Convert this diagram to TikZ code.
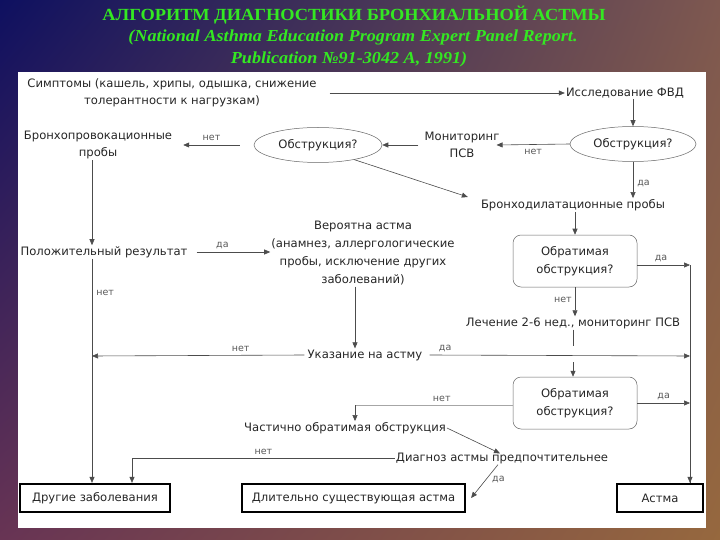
\documentclass[tikz,border=0pt]{standalone}
\usepackage{fontspec}
\setmainfont{DejaVu Sans}
\newfontfamily\titlefont{Liberation Serif}
\usetikzlibrary{shapes.geometric,arrows.meta,calc,shadings}
\definecolor{bgTL}{RGB}{14,16,96}
\definecolor{bgTR}{RGB}{126,88,80}
\definecolor{bgBL}{RGB}{104,52,84}
\definecolor{bgBR}{RGB}{150,104,62}
\definecolor{ttl}{RGB}{52,232,34}
\tikzset{
  lbl/.style={font=\fontsize{11.6}{17.5}\selectfont, align=center, inner sep=1pt, text=black!85},
  sm/.style={font=\fontsize{9.5}{10}\selectfont, text=black!65, inner sep=1pt},
  arr/.style={draw=black!70, line width=0.6pt, -{Triangle[length=6pt,width=5pt]}},
  ln/.style={draw=black!70, line width=0.6pt},
  ell/.style={ellipse, draw=black!60, line width=0.5pt, minimum width=126pt, minimum height=35pt, lbl},
  rbox/.style={rounded corners=8pt, draw=black!60, line width=0.5pt, minimum width=124pt, minimum height=52pt, lbl},
  endb/.style={draw=black, line width=2.2pt, minimum height=28pt, lbl},
  ttlstyle/.style={text=ttl, inner sep=0pt},
}
\begin{document}
\begin{tikzpicture}[x=1pt,y=-1pt]
\useasboundingbox (0,0) rectangle (720,540);
\shade[upper left=bgTL, upper right=bgTR, lower left=bgBL, lower right=bgBR] (0,0) rectangle (720,540);
\fill[white] (18,72) rectangle (706,528);

% title
\node[ttlstyle, xscale=1.08, font=\titlefont\bfseries\fontsize{17}{19}\selectfont] (t1) at (354,15) {АЛГОРИТМ ДИАГНОСТИКИ БРОНХИАЛЬНОЙ АСТМЫ};
\node[ttlstyle, xscale=1.08, font=\titlefont\bfseries\itshape\fontsize{16.8}{19}\selectfont] (t2) at (353,37) {(National Asthma Education Program Expert Panel Report.};
\node[ttlstyle, xscale=1.08, font=\titlefont\bfseries\itshape\fontsize{16.8}{19}\selectfont] (t3) at (349,59) {Publication №91-3042 A, 1991)};

% nodes
\node[lbl] (sym) at (172,93) {Симптомы (кашель, хрипы, одышка, снижение\\толерантности к нагрузкам)};
\node[lbl] (fvd) at (625,93) {Исследование ФВД};
\node[ell] (obs1) at (633,144) {Обструкция?};
\node[lbl] (mon) at (462,145) {Мониторинг\\ПСВ};
\node[ell, minimum width=128pt] (obs2) at (318,145) {Обструкция?};
\node[lbl] (bpp) at (98,145) {Бронхопровокационные\\пробы};
\node[lbl] (bdp) at (573,205) {Бронходилатационные пробы};
\node[rbox] (rev1) at (575,261) {Обратимая\\обструкция?};
\node[lbl] (lech) at (573,323) {Лечение 2-6 нед., мониторинг ПСВ};
\node[rbox] (rev2) at (575,403) {Обратимая\\обструкция?};
\node[lbl] (pos) at (104,252) {Положительный результат};
\node[lbl, font=\fontsize{11.6}{18.3}\selectfont] (ver) at (363,253) {Вероятна астма\\(анамнез, аллергологические\\пробы, исключение других\\заболеваний)};
\node[lbl] (uk) at (365,355) {Указание на астму};
\node[lbl] (chast) at (345,428) {Частично обратимая обструкция};
\node[lbl] (diag) at (502,458) {Диагноз астмы предпочтительнее};
\node[endb, minimum width=150pt] (other) at (95,498) {Другие заболевания};
\node[endb, minimum width=223pt] (long) at (353.5,498) {Длительно существующая астма};
\node[endb, minimum width=86pt] (asthma) at (660,498) {Астма};

% helper coordinates
\coordinate (rx1) at (690,265);
\coordinate (rx2) at (690,356);
\coordinate (rx3) at (690,403);
\coordinate (lx) at (92,356);
\coordinate (gapA) at (573,346);
\coordinate (gapB) at (573,362);
\coordinate (nd) at (355,405);

% connectors
\draw[arr] ([xshift=12pt]sym.east) -- (fvd.west);
\draw[arr] (fvd.south -| obs1.north) -- (obs1.north);
\draw[arr] (obs1.west) -- node[sm, below=3pt, pos=0.5] {нет} ([xshift=-4pt]mon.east);
\draw[arr] ([xshift=-5pt]mon.west) -- (obs2.east);
\draw[arr] ([xshift=-14pt]obs2.west) -- node[sm, above=3pt, pos=0.5] {нет} ([xshift=10pt]bpp.east);
\draw[arr] (obs2.-22) -- ([shift={(-12pt,8pt)}]bdp.west);
\draw[arr] (obs1.south) -- node[sm, right=3pt, pos=0.6] {да} (obs1.south |- bdp.north);
\draw[arr] (bdp.south -| rev1.north) -- (rev1.north);
\draw[arr] (rev1.east |- rx1) -- node[sm, above=2pt, pos=0.45] {да} (rx1);
\draw[arr] (rev1.south) -- node[sm, left=2pt, pos=0.45] {нет} (rev1.south |- lech.north);
\draw[ln] (lech.south -| gapA) -- (gapA);
\draw[arr] (gapB) -- (gapB |- rev2.north);
\draw[arr] (rev2.east) -- node[sm, above=2pt, pos=0.5] {да} (rx3);
\draw[ln, draw=black!35] (rev2.west |- nd) -- node[sm, above=2pt, pos=0.45] {нет} (nd);
\draw[arr] (nd) -- (nd |- chast.north);
\draw[ln] (rx1) -- (rx1 |- asthma.north);
\draw[arr] ([yshift=6pt]rx1 |- asthma.north) -- (rx1 |- asthma.north);
\draw[arr] (chast.east) -- ([shift={(-2pt,-2pt)}]diag.north);
\draw[arr] ([xshift=-4pt]diag.south) -- node[sm, right=5pt, pos=0.45] {да} ([xshift=5pt]long.east);
\draw[arr] (diag.west) -| node[sm, above=2pt, pos=0.25] {нет} (other.north -| 132,0);
\draw[arr] ([xshift=-6pt]bpp.south) -- ([xshift=-6pt]bpp.south |- pos.north);
\draw[arr] ([xshift=8pt]pos.east) -- node[sm, above=2pt, pos=0.35] {да} (ver.west |- pos.east);
\draw[arr] (pos.south -| lx) -- node[sm, right=3pt, pos=0.15] {нет} (other.north -| lx);
\draw[arr] (ver.south -| nd) -- (uk.north -| nd);
\draw[arr] ([xshift=-2pt]uk.west) -- node[sm, above=2pt, pos=0.3] {нет} (lx);
\draw[arr] ([xshift=6pt]uk.east) -- node[sm, above=2pt, pos=0.06] {да} (rx2);
\end{tikzpicture}
\end{document}
